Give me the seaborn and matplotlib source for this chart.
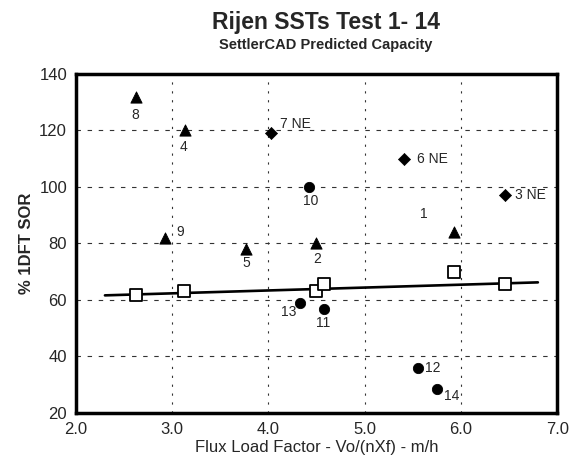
import pandas as pd
import seaborn as sns
import matplotlib.pyplot as plt

# Values
tri_x = [2.62, 3.13, 2.92, 3.77, 4.49, 5.93]
tri_y = [132, 120, 82, 78, 80, 84]
tri_lab = ["8", "4", "9", "5", "2", "1"]

dia_x = [4.03, 5.41, 6.46]
dia_y = [119, 110, 97]
dia_lab = ["7 NE", "6 NE", "3 NE"]

cir_x = [4.42, 4.33, 4.58, 5.55, 5.75]
cir_y = [100, 59, 56.6, 36, 28.3]
cir_lab = ["10", "13", "11", "12", "14"]

sq_x = [2.62, 3.12, 4.49, 4.58, 5.93, 6.46]
sq_y = [61.6, 63, 63, 65.8, 70, 65.5]

trend_x = [2.3, 6.8]
trend_y = [61.6, 66.2]

# label offsets in points (dx, dy, ha)
tri_off = [(0, -13, "center"), (-1, -12, "center"), (11, 4, "center"),
           (0, -10, "center"), (1, -11, "center"), (-22, 13, "center")]
dia_off = [(6, 7, "left"), (9, 0, "left"), (7, 0, "left")]
cir_off = [(1, -10, "center"), (-3, -7, "right"), (-1, -10, "center"),
           (5, 0, "left"), (5, -5, "left")]

sns.set_style("white")
plt.rcParams['font.family'] = ['Liberation Sans', 'DejaVu Sans']

fig = plt.figure(figsize=(5.72, 4.74), dpi=100)
ax = fig.add_axes([0.133, 0.129, 0.841, 0.715])

sns.lineplot(x=trend_x, y=trend_y, color='black', linewidth=1.9, ax=ax)
sns.scatterplot(x=sq_x, y=sq_y, marker='s', s=70, facecolor='white',
                edgecolor='black', linewidth=1.3, ax=ax, zorder=4)
sns.scatterplot(x=tri_x, y=tri_y, marker='^', s=65, color='black',
                edgecolor='black', ax=ax, zorder=4)
sns.scatterplot(x=dia_x, y=dia_y, marker='D', s=38, color='black',
                edgecolor='black', ax=ax, zorder=4)
sns.scatterplot(x=cir_x, y=cir_y, marker='o', s=55, color='black',
                edgecolor='black', ax=ax, zorder=4)

for xs, ys, labs, offs in [(tri_x, tri_y, tri_lab, tri_off),
                           (dia_x, dia_y, dia_lab, dia_off),
                           (cir_x, cir_y, cir_lab, cir_off)]:
    for x, y, lab, (dx, dy, ha) in zip(xs, ys, labs, offs):
        ax.annotate(lab, (x, y), xytext=(dx, dy), textcoords='offset points',
                    ha=ha, va='center', fontsize=10)

ax.set_xlim(2, 7)
ax.set_ylim(20, 140)
ax.set_xticks([2, 3, 4, 5, 6, 7])
ax.set_xticklabels(["2.0", "3.0", "4.0", "5.0", "6.0", "7.0"])
ax.set_yticks([20, 40, 60, 80, 100, 120, 140])
ax.tick_params(labelsize=12, length=3, width=1, direction='out', color='black')
ax.xaxis.grid(True, linestyle=(0, (2, 6)), color='#333333', linewidth=0.8)
ax.yaxis.grid(True, linestyle=(0, (4, 6)), color='#333333', linewidth=0.8)
for sp in ax.spines.values():
    sp.set_linewidth(2.5)
    sp.set_color('black')

ax.set_xlabel('Flux Load Factor - Vo/(nXf) - m/h', fontsize=12, labelpad=2)
ax.set_ylabel('% 1DFT SOR', fontsize=12, fontweight='bold', labelpad=4)

fig.text(0.57, 0.952, 'Rijen SSTs Test 1- 14', ha='center', va='center',
         fontsize=16.5, fontweight='bold')
fig.text(0.57, 0.905, 'SettlerCAD Predicted Capacity', ha='center',
         va='center', fontsize=10.5, fontweight='bold')

fig.savefig('out.png', dpi=100)
